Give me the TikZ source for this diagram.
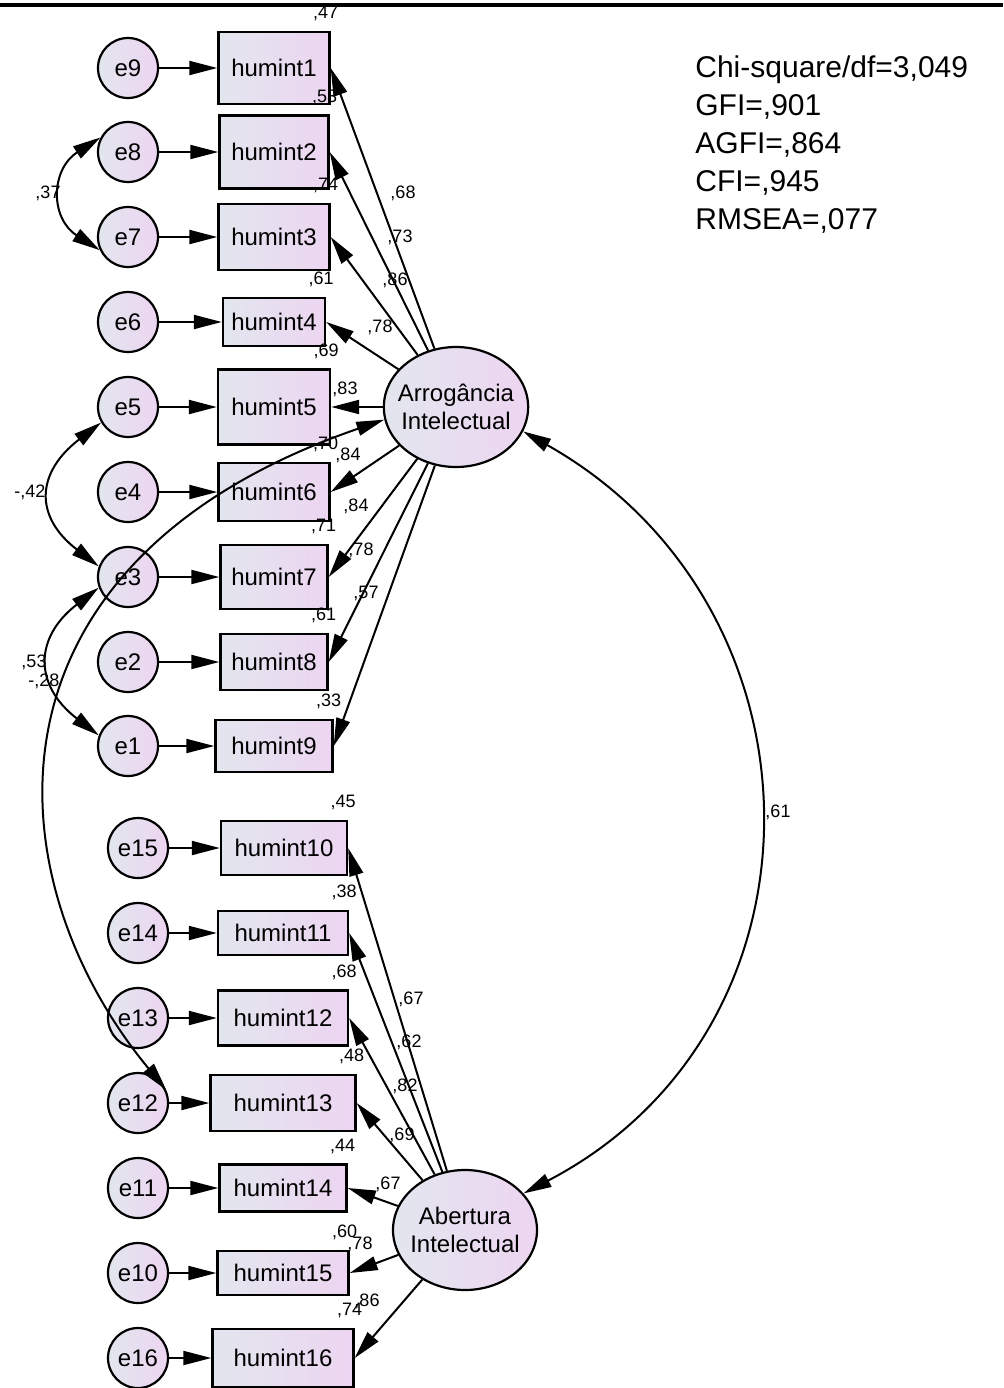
\documentclass[tikz,border=0pt]{standalone}
\usepackage{fontspec}
\setmainfont{Liberation Sans}
\usepackage{tikz}
\usetikzlibrary{arrows.meta,calc,shapes.geometric}
\definecolor{semgrey}{HTML}{E2E6EE}
\definecolor{semlilac}{HTML}{EDD5F1}

\begin{document}
\begin{tikzpicture}[
  x=0.5pt,y=-0.5pt,
  font=\fontsize{12}{14}\selectfont,
  obs/.style={rectangle,draw,line width=1.2pt,left color=semgrey,right color=semlilac,inner sep=0pt},
  err/.style={circle,draw,line width=1.1pt,minimum size=30pt,inner sep=0pt,left color=semgrey,right color=semlilac},
  lat/.style={ellipse,draw,line width=1.1pt,minimum width=72pt,minimum height=60pt,inner xsep=-3.5pt,inner ysep=0pt,align=center,left color=semgrey,right color=semlilac},
  reg/.style={-{Triangle[length=14pt,width=7pt]},line width=1pt},
  cov/.style={{Triangle[length=14pt,width=7pt]}-{Triangle[length=14pt,width=7pt]},line width=1pt},
  coef/.style={font=\fontsize{9}{10}\selectfont,inner sep=0pt},
]
\useasboundingbox (0,0) rectangle (1003,1388);
\draw[line width=2pt] (0,5) -- (1003,5);

% Fit indices
\node[anchor=west,align=left,inner sep=0pt,font=\fontsize{15}{19}\selectfont] (gof) at (695,145)
  {Chi-square/df=3,049\\GFI=,901\\AGFI=,864\\CFI=,945\\RMSEA=,077};

% Latent factors
\node[lat] (arr) at (456,407) {Arrogância\\Intelectual};
\node[lat] (abe) at (465,1230) {Abertura\\Intelectual};

% Items of Arrogancia
\node[obs,minimum width=55.5pt,minimum height=36pt]   (h1) at (274,68)  {humint1};
\node[obs,minimum width=54.5pt,minimum height=36.5pt] (h2) at (274,152) {humint2};
\node[obs,minimum width=55.5pt,minimum height=33pt]   (h3) at (274,237) {humint3};
\node[obs,minimum width=51pt,minimum height=24pt]     (h4) at (274,322) {humint4};
\node[obs,minimum width=56pt,minimum height=37.5pt]   (h5) at (274,407) {humint5};
\node[obs,minimum width=55.5pt,minimum height=29pt]   (h6) at (274,492) {humint6};
\node[obs,minimum width=53.5pt,minimum height=32pt]   (h7) at (274,577) {humint7};
\node[obs,minimum width=53.5pt,minimum height=28pt]   (h8) at (274,662) {humint8};
\node[obs,minimum width=58.5pt,minimum height=26pt]   (h9) at (274,746) {humint9};
% Items of Abertura
\node[obs,minimum width=63pt,minimum height=27pt]     (h10) at (284,848)  {humint10};
\node[obs,minimum width=65pt,minimum height=22pt]     (h11) at (283,933)  {humint11};
\node[obs,minimum width=65pt,minimum height=27.5pt]   (h12) at (283,1018) {humint12};
\node[obs,minimum width=72.5pt,minimum height=28pt]   (h13) at (283,1103) {humint13};
\node[obs,minimum width=63.5pt,minimum height=23.5pt] (h14) at (283,1188) {humint14};
\node[obs,minimum width=65.5pt,minimum height=22pt]   (h15) at (283,1273) {humint15};
\node[obs,minimum width=70.5pt,minimum height=29pt]   (h16) at (283,1358) {humint16};

% Error terms
\node[err] (e9) at (128,68)  {e9};
\node[err] (e8) at (128,152) {e8};
\node[err] (e7) at (128,237) {e7};
\node[err] (e6) at (128,322) {e6};
\node[err] (e5) at (128,407) {e5};
\node[err] (e4) at (128,492) {e4};
\node[err] (e3) at (128,577) {e3};
\node[err] (e2) at (128,662) {e2};
\node[err] (e1) at (128,746) {e1};
\node[err] (e15) at (138,848)  {e15};
\node[err] (e14) at (138,933)  {e14};
\node[err] (e13) at (138,1018) {e13};
\node[err] (e12) at (138,1103) {e12};
\node[err] (e11) at (138,1188) {e11};
\node[err] (e10) at (138,1273) {e10};
\node[err] (e16) at (138,1358) {e16};

% Error -> item
\draw[reg] (e9) -- (h1);
\draw[reg] (e8) -- (h2);
\draw[reg] (e7) -- (h3);
\draw[reg] (e6) -- (h4);
\draw[reg] (e5) -- (h5);
\draw[reg] (e4) -- (h6);
\draw[reg] (e3) -- (h7);
\draw[reg] (e2) -- (h8);
\draw[reg] (e1) -- (h9);
\draw[reg] (e15) -- (h10);
\draw[reg] (e14) -- (h11);
\draw[reg] (e13) -- (h12);
\draw[reg] (e12) -- (h13);
\draw[reg] (e11) -- (h14);
\draw[reg] (e10) -- (h15);
\draw[reg] (e16) -- (h16);

% Loadings
\draw[reg] (arr) -- (h1.east);
\draw[reg] (arr) -- (h2.east);
\draw[reg] (arr) -- (h3.east);
\draw[reg] (arr) -- (h4.east);
\draw[reg] (arr) -- (h5.east);
\draw[reg] (arr) -- (h6.east);
\draw[reg] (arr) -- (h7.east);
\draw[reg] (arr) -- (h8.east);
\draw[reg] (arr) -- (h9.east);
\draw[reg] (abe) -- (h10.east);
\draw[reg] (abe) -- (h11.east);
\draw[reg] (abe) -- (h12.east);
\draw[reg] (abe) -- (h13.east);
\draw[reg] (abe) -- (h14.east);
\draw[reg] (abe) -- (h15.east);
\draw[reg] (abe) -- (h16.east);

\node[coef] (l1) at (403,193) {,68};
\node[coef] (l2) at (400,237) {,73};
\node[coef] (l3) at (395,280) {,86};
\node[coef] (l4) at (380,327) {,78};
\node[coef] (l5) at (345,389) {,83};
\node[coef] (l6) at (348,455) {,84};
\node[coef] (l7) at (356,506) {,84};
\node[coef] (l8) at (361,550) {,78};
\node[coef] (l9) at (366,593) {,57};
\node[coef] (l10) at (411,999)  {,67};
\node[coef] (l11) at (409,1042) {,62};
\node[coef] (l12) at (405,1086) {,82};
\node[coef] (l13) at (402,1135) {,69};
\node[coef] (l14) at (388,1184) {,67};
\node[coef] (l15) at (360,1244) {,78};
\node[coef] (l16) at (367,1301) {,86};

% Squared multiple correlations
\node[coef] (r1) at ($(h1.north east)+(-5,-17)$) {,47};
\node[coef] (r2) at ($(h2.north east)+(-5,-17)$) {,53};
\node[coef] (r3) at ($(h3.north east)+(-5,-17)$) {,74};
\node[coef] (r4) at ($(h4.north east)+(-5,-17)$) {,61};
\node[coef] (r5) at ($(h5.north east)+(-5,-17)$) {,69};
\node[coef] (r6) at ($(h6.north east)+(-5,-17)$) {,70};
\node[coef] (r7) at ($(h7.north east)+(-5,-17)$) {,71};
\node[coef] (r8) at ($(h8.north east)+(-5,-17)$) {,61};
\node[coef] (r9) at ($(h9.north east)+(-5,-17)$) {,33};
\node[coef] (r10) at ($(h10.north east)+(-5,-17)$) {,45};
\node[coef] (r11) at ($(h11.north east)+(-5,-17)$) {,38};
\node[coef] (r12) at ($(h12.north east)+(-5,-17)$) {,68};
\node[coef] (r13) at ($(h13.north east)+(-5,-17)$) {,48};
\node[coef] (r14) at ($(h14.north east)+(-5,-17)$) {,44};
\node[coef] (r15) at ($(h15.north east)+(-5,-17)$) {,60};
\node[coef] (r16) at ($(h16.north east)+(-5,-17)$) {,74};

% Covariances
\draw[cov] (e8.152) .. controls +(-50,32) and +(-50,-32) .. (e7.205);
\draw[cov] (e5.210) .. controls +(-65,50) and +(-65,-50) .. (e3.160);
\draw[cov] (e3.200) .. controls +(-65,50) and +(-65,-50) .. (e1.160);
\draw[cov] (arr.190) .. controls +(-415,143) and +(-175,-212) .. (e12.25);
\draw[cov] (arr.-20) .. controls +(310,175) and +(316,-165) .. (abe.32);

\node[coef] (c1) at (48,193) {,37};
\node[coef] (c2) at (30,492) {-,42};
\node[coef] (c3) at (34,662) {,53};
\node[coef] (c4) at (44,681) {-,28};
\node[coef] (c5) at (778,812) {,61};
\end{tikzpicture}
\end{document}
